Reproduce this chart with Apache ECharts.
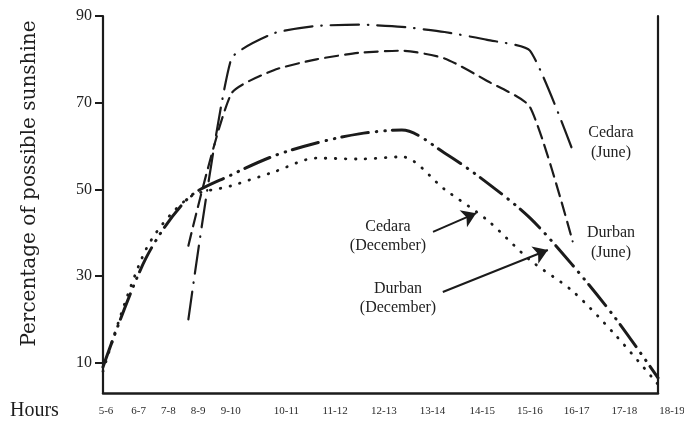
<!DOCTYPE html>
<html>
<head>
<meta charset="utf-8">
<script src="https://cdn.jsdelivr.net/npm/echarts@6/dist/echarts.min.js"></script>
<style>
  html, body { margin: 0; padding: 0; background: #ffffff; }
  #chart { width: 684px; height: 428px; }
</style>
</head>
<body>
<div id="chart"></div>
<script>
// ---- data ----
const hours = ['5-6','6-7','7-8','8-9','9-10','10-11','11-12','12-13','13-14','14-15','15-16','16-17','17-18','18-19'];
const cedaraJune = [null, null, 20, 80, 86, 87.7, 88, 87.5, 86.3, 84.5, 82, 59, null, null];
const durbanJune = [null, null, 37, 72, 77.5, 80, 81.5, 82, 80.2, 75, 69, 38, null, null];
const cedaraDecember = [9, 34, 48, 53.3, 57.7, 60.7, 62.8, 63.7, 58.4, 51.5, 43.4, 32.5, 20.3, 6.5];
const durbanDecember = [8, 36, 48, 50.8, 54, 57.2, 57, 57.5, 50, 42.9, 33.7, 26.5, 16.4, 5];
const yTicks = [10, 30, 50, 70, 90];
// annotation arrows (hour index, percentage)
const arrowCedaraDec = [[7.73, 40.2], [8.74, 44.5]];
const arrowDurbanDec = [[7.96, 26.3], [10.42, 36]];

const ink = '#1b1b1b';
const serif = '"Liberation Serif", "DejaVu Serif", serif';

function pairs(values) {
  return values.map((v, i) => (v == null ? null : [i, v])).filter(Boolean);
}

// per-label nudges so tick labels sit where the printed ones do
const nudge = [3, -7, -20, -33, -43, -30, -24, -18, -12, -5, 0, 4, 9, 14];
const rich = {};
nudge.forEach((s, i) => {
  rich['l' + i] = {
    fontFamily: serif, fontSize: 11, color: '#2a2a2a',
    padding: s >= 0 ? [0, 0, 0, 2 * s] : [0, -2 * s, 0, 0]
  };
});

function lineSeries(name, values, dash, width, smooth) {
  return {
    name: name,
    type: 'line',
    data: pairs(values),
    showSymbol: false,
    symbol: 'none',
    smooth: smooth,
    lineStyle: { color: ink, width: width, type: dash, cap: 'round', join: 'round' }
  };
}

const chart = echarts.init(document.getElementById('chart'), null, { renderer: 'canvas' });

const series = [
  lineSeries('Cedara (June)', cedaraJune, [28, 9, 0.5, 9], 2.2, 0.18),
  lineSeries('Durban (June)', durbanJune, [13, 7], 2.2, 0.2),
  lineSeries('Cedara (December)', cedaraDecember, [27, 8, 0.5, 8, 0.5, 7], 3, 0.3),
  lineSeries('Durban (December)', durbanDecember, [0.5, 9.5], 2.8, 0.3)
];
series[3].markLine = {
  silent: true,
  animation: false,
  symbol: ['none', 'arrow'],
  symbolSize: 14,
  label: { show: false },
  lineStyle: { color: ink, width: 2, type: 'solid' },
  data: [
    [{ coord: arrowCedaraDec[0] }, { coord: arrowCedaraDec[1] }],
    [{ coord: arrowDurbanDec[0] }, { coord: arrowDurbanDec[1] }]
  ]
};

const option = {
  backgroundColor: '#ffffff',
  animation: false,
  grid: { left: 103, right: 26, top: 16, bottom: 35, containLabel: false, outerBoundsMode: 'none' },
  xAxis: {
    type: 'value',
    min: 0,
    max: hours.length - 1,
    interval: 1,
    axisLine: { show: true, lineStyle: { color: ink, width: 2.5 } },
    axisTick: { show: false },
    splitLine: { show: false },
    axisLabel: {
      margin: 13,
      showMinLabel: true,
      showMaxLabel: true,
      formatter: (v) => {
        const i = Math.round(v);
        return '{l' + i + '|' + hours[i] + '}';
      },
      rich: rich
    }
  },
  yAxis: [
    {
      type: 'value',
      min: 3,
      max: 90,
      name: 'Percentage of possible sunshine',
      nameLocation: 'middle',
      nameGap: 63,
      nameTextStyle: { fontFamily: '"DejaVu Serif", serif', fontSize: 20, color: '#1e1e1e', padding: [0, 0, 0, 42] },
      axisLine: { show: true, lineStyle: { color: ink, width: 2.2 } },
      axisTick: { show: true, inside: false, length: 8, customValues: yTicks, lineStyle: { color: ink, width: 2 } },
      axisLabel: { customValues: yTicks, margin: 11, fontFamily: serif, fontSize: 16, color: '#222' },
      splitLine: { show: false }
    },
    {
      type: 'value',
      min: 3,
      max: 90,
      position: 'right',
      axisLine: { show: true, lineStyle: { color: ink, width: 2.2 } },
      axisTick: { show: false },
      axisLabel: { show: false },
      splitLine: { show: false }
    }
  ],
  graphic: [
    { type: 'text', x: 10, y: 411, style: { text: 'Hours', fontFamily: serif, fontSize: 20, fill: '#1e1e1e', align: 'left', verticalAlign: 'middle' } },
    { type: 'text', x: 611, y: 143, style: { text: 'Cedara\n(June)', fontFamily: serif, fontSize: 16, lineHeight: 20, fill: '#222', align: 'center', verticalAlign: 'middle' } },
    { type: 'text', x: 611, y: 243, style: { text: 'Durban\n(June)', fontFamily: serif, fontSize: 16, lineHeight: 20, fill: '#222', align: 'center', verticalAlign: 'middle' } },
    { type: 'text', x: 388, y: 236, style: { text: 'Cedara\n(December)', fontFamily: serif, fontSize: 16, lineHeight: 19, fill: '#222', align: 'center', verticalAlign: 'middle' } },
    { type: 'text', x: 398, y: 298, style: { text: 'Durban\n(December)', fontFamily: serif, fontSize: 16, lineHeight: 19, fill: '#222', align: 'center', verticalAlign: 'middle' } }
  ],
  series: series
};

chart.setOption(option);
</script>
</body>
</html>
